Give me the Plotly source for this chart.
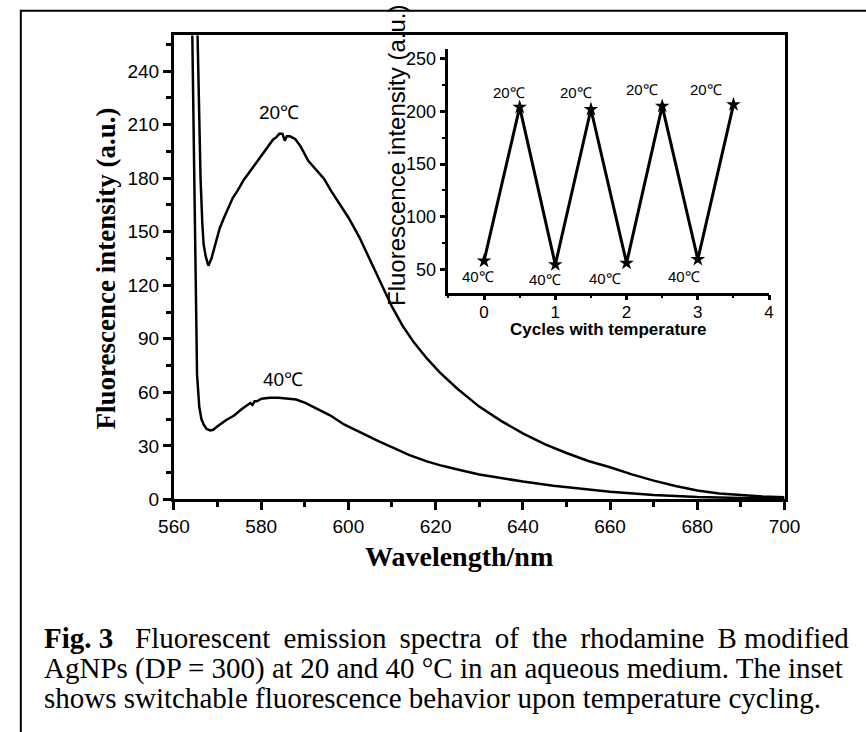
import plotly.graph_objects as go

# ---------------- data ----------------
wl_20 = [565.4, 565.7, 566.1, 566.5, 566.8, 567.3, 567.9, 568.6, 569.5, 570.5, 571.5, 572.5, 573.5, 574.6,
         576, 577.5, 579, 580.5, 582, 582.7, 583.5, 584.2, 584.9, 585.4, 585.9, 586.6, 587.8, 589,
         590.8, 592.5, 594.4, 596, 598.1, 600, 602.5, 605, 607.5, 610, 612.5, 615, 618, 621,
         625, 630, 635, 640, 645, 650, 655, 660, 665, 670, 675, 680, 685, 690, 695, 700]
int_20 = [262, 220, 180, 155, 143, 136, 131, 135, 143, 152, 158, 164, 169, 173,
          179, 184, 189, 194, 199, 201.6, 203, 205, 204.8, 201, 203.5, 203.5, 202, 198,
          189.7, 185, 179.7, 173, 165, 158, 147, 134, 121, 108, 97, 88, 79, 71,
          62, 52, 44, 37, 31, 26, 21.5, 18, 14, 10.5, 7.5, 5, 3.3, 2.3, 1.6, 1.2]

wl_40 = [564.2, 564.6, 565.0, 565.3, 565.8, 566.3, 566.8, 567.5, 568.3, 569, 570, 571, 572, 573.8,
         575.5, 577.5, 578, 578.5, 579, 580.1, 582, 584, 586.3, 588, 590, 593, 595.9, 599,
         603.3, 607, 610.6, 614, 618, 621.5, 625.3, 630, 635, 640, 647, 655, 660, 670,
         680, 690, 700]
int_40 = [262, 190, 125, 70, 52, 45, 42, 39.5, 38.6, 39, 41, 43, 44.5, 47,
          50.5, 54, 53, 55, 55, 56.4, 57, 57, 56.6, 56, 54.2, 50.5, 47, 42,
          36.8, 32.5, 28.6, 24.8, 21.3, 18.8, 16.6, 14, 12, 10, 7.7, 5.5, 4.3, 2.5,
          1.3, 0.8, 0.5]

cycles = [0, 0.5, 1, 1.5, 2, 2.5, 3, 3.5]
cycle_int = [58, 204, 54.5, 202, 56, 205, 59.5, 206.5]

main_labels = ["20℃", "40℃"]
main_label_x = [584.1, 584.9]
main_label_y = [217, 67]

inset_hi_x = [0.35, 1.29, 2.22, 3.11]
inset_hi_y = [218, 218, 220.5, 220.5]
inset_lo_x = [-0.09, 0.86, 1.70, 2.80]
inset_lo_y = [43, 40.5, 41.5, 43]

x_ticks = [560, 580, 600, 620, 640, 660, 680, 700]
y_ticks = [0, 30, 60, 90, 120, 150, 180, 210, 240]
inset_x_ticks = [0, 1, 2, 3, 4]
inset_y_ticks = [50, 100, 150, 200, 250]

TS = "\u2009 "
caption_lines = [
    "<b>Fig. 3</b>\u00a0\u00a0 Fluorescent" + TS + "emission" + TS + "spectra" + TS + "of" + TS
    + "the" + TS + "rhodamine" + TS + "B modified",
    "AgNPs (DP = 300) at 20 and 40 °C in an aqueous medium. The inset",
    "shows switchable fluorescence behavior upon temperature cycling.",
]

# ---------------- layout helpers ----------------
W, H = 866, 732
def px(x):
    return x / W
def py(y):
    return 1 - y / H

SANS = "Liberation Sans, Arial, sans-serif"
SERIF = "Liberation Serif, Times New Roman, serif"

fig = go.Figure()
fig.add_trace(go.Scatter(x=wl_20, y=int_20, mode="lines", line=dict(color="black", width=2.5),
                         xaxis="x", yaxis="y", showlegend=False))
fig.add_trace(go.Scatter(x=wl_40, y=int_40, mode="lines", line=dict(color="black", width=2.5),
                         xaxis="x", yaxis="y", showlegend=False))
fig.add_trace(go.Scatter(x=cycles, y=cycle_int, mode="lines+markers",
                         line=dict(color="black", width=3),
                         marker=dict(symbol="star", size=11, color="black"),
                         xaxis="x2", yaxis="y2", showlegend=False))

def axis_common(size):
    return dict(showgrid=False, zeroline=False, showline=True, linecolor="black",
                ticks="outside", tickcolor="black",
                tickfont=dict(family=SANS, size=size, color="black"))

fig.update_layout(
    width=W, height=H,
    margin=dict(l=0, r=0, t=0, b=0),
    paper_bgcolor="white",
    plot_bgcolor="rgba(0,0,0,0)",
    showlegend=False,
    xaxis=dict(domain=[px(164), px(798)], range=[560, 700], anchor="y",
               tickvals=x_ticks, ticklen=8, tickwidth=2.5, linewidth=3, mirror=True,
               minor=dict(dtick=10, tick0=560, ticklen=5, tickwidth=2.5, ticks="outside", tickcolor="black"),
               **axis_common(19)),
    yaxis=dict(domain=[py(507), py(36)], range=[0, 260], anchor="x",
               tickvals=y_ticks, ticklen=8, tickwidth=2.5, linewidth=3, mirror=True,
               minor=dict(dtick=15, tick0=0, ticklen=5, tickwidth=2.5, ticks="outside", tickcolor="black"),
               **axis_common(19)),
    xaxis2=dict(domain=[px(449), px(782)], range=[-0.5, 4], anchor="y2",
                tickvals=inset_x_ticks, ticklen=5, tickwidth=2.5, linewidth=2.5,
                ticklabelstandoff=-3,
                minor=dict(dtick=0.5, tick0=0, ticklen=3, tickwidth=2, ticks="outside", tickcolor="black"),
                **axis_common(17)),
    yaxis2=dict(domain=[py(297), py(50)], range=[28, 259], anchor="x2",
                tickvals=inset_y_ticks, ticklen=6, tickwidth=2.5, linewidth=2.5,
                minor=dict(dtick=25, tick0=0, ticklen=4, tickwidth=2, ticks="outside", tickcolor="black"),
                **axis_common(18)),
)

ann = []
# axis titles
ann.append(dict(text="<b>Wavelength/nm</b>", xref="paper", yref="paper", x=px(460), y=py(565),
                xanchor="center", yanchor="middle", showarrow=False,
                font=dict(family=SERIF, size=28, color="black")))
ann.append(dict(text="<b>Fluorescence intensity (a.u.)</b>", xref="paper", yref="paper", x=px(93), y=py(273),
                xanchor="center", yanchor="middle", showarrow=False, textangle=-90,
                font=dict(family=SERIF, size=27, color="black")))
ann.append(dict(text="<b>Cycles with temperature</b>", xref="paper", yref="paper", x=px(615), y=py(335),
                xanchor="center", yanchor="middle", showarrow=False,
                font=dict(family=SANS, size=17, color="black")))
ann.append(dict(text="Fluorescence intensity (a.u.)", xref="paper", yref="paper", x=px(395), y=py(158),
                xanchor="center", yanchor="middle", showarrow=False, textangle=-90,
                font=dict(family=SANS, size=24, color="black")))
# curve labels
for t, x, y in zip(main_labels, main_label_x, main_label_y):
    ann.append(dict(text=t, xref="x", yref="y", x=x, y=y, showarrow=False,
                    xanchor="center", yanchor="middle",
                    font=dict(family=SANS, size=19, color="black")))
for x, y in zip(inset_hi_x, inset_hi_y):
    ann.append(dict(text="20℃", xref="x2", yref="y2", x=x, y=y, showarrow=False,
                    xanchor="center", yanchor="middle",
                    font=dict(family=SANS, size=15, color="black")))
for x, y in zip(inset_lo_x, inset_lo_y):
    ann.append(dict(text="40℃", xref="x2", yref="y2", x=x, y=y, showarrow=False,
                    xanchor="center", yanchor="middle",
                    font=dict(family=SANS, size=15, color="black")))
# caption
for i, line in enumerate(caption_lines):
    ann.append(dict(text=line, xref="paper", yref="paper", x=px(27), y=py(648 + 30.5 * i),
                    xanchor="left", yanchor="middle", showarrow=False,
                    font=dict(family=SERIF, size=29, color="black")))
fig.update_layout(annotations=ann)

# outer frame of the figure panel
fig.add_shape(type="rect", xref="paper", yref="paper", x0=px(5), y0=-0.05, x1=1.05, y1=py(11),
              line=dict(color="black", width=2), fillcolor="rgba(0,0,0,0)", layer="below")

fig.write_html("out.html", post_script="document.body.style.margin='0';",
               config={"displayModeBar": False})
